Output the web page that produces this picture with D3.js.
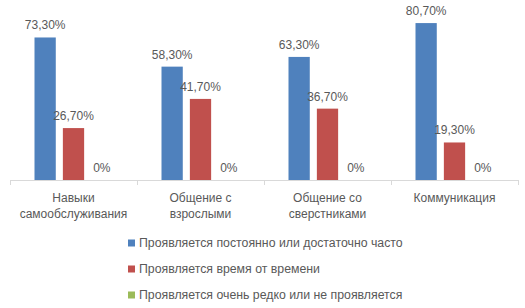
<!DOCTYPE html>
<html>
<head>
<meta charset="utf-8">
<script src="https://cdn.jsdelivr.net/npm/d3@7"></script>
<style>
  body { margin: 0; background: #fff; }
  text { font-family: "Liberation Sans", Arial, sans-serif; fill: #595959; }
</style>
</head>
<body>
<div id="chart"></div>
<script>
// categories (two lines each) and series
const categories = ["Навыки самообслуживания", "Общение с взрослыми", "Общение со сверстниками", "Коммуникация"];
const categoryLines = [["Навыки", "самообслуживания"], ["Общение с", "взрослыми"], ["Общение со", "сверстниками"], ["Коммуникация"]];
const seriesNames = ["Проявляется постоянно или достаточно часто", "Проявляется время от времени", "Проявляется очень редко или не проявляется"];
const often = [0.733, 0.583, 0.633, 0.807];
const sometimes = [0.267, 0.417, 0.367, 0.193];
const rarely = [0, 0, 0, 0];
const colors = ["#4F81BD", "#C0504D", "#9BBB59"];

const width = 525, height = 308;
const svg = d3.select("#chart").append("svg")
    .attr("width", width)
    .attr("height", height);

let series = [often, sometimes, rarely];
let data = categories.map((c, i) => ({cat: c, i: i, vals: series.map(s => s[i])}));

let x0 = d3.scaleBand().domain(categories).range([10, 518]).paddingInner(0).paddingOuter(0);
let x1 = d3.scaleBand().domain([0, 1, 2]).range([24.5, x0.bandwidth() - 24.5]).paddingInner(0.25).paddingOuter(0);
let y = d3.scaleLinear().domain([0, 0.9]).range([180, 5]);

let fmt = v => v === 0 ? "0%" : (v * 100).toFixed(2).replace(".", ",") + "%";

// bars
let groups = svg.selectAll(".grp")
    .data(data)
    .enter().append("g")
    .attr("class", "grp")
    .attr("transform", d => "translate(" + x0(d.cat) + ",0)");

groups.selectAll("rect")
    .data(d => d.vals)
    .enter().append("rect")
    .attr("x", (v, j) => x1(j))
    .attr("width", x1.bandwidth())
    .attr("y", v => y(v))
    .attr("height", v => y(0) - y(v))
    .attr("fill", (v, j) => colors[j]);

groups.selectAll(".lbl")
    .data(d => d.vals)
    .enter().append("text")
    .attr("class", "lbl")
    .attr("x", (v, j) => x1(j) + x1.bandwidth() / 2)
    .attr("y", v => y(v) - 8)
    .attr("text-anchor", "middle")
    .style("font-size", "12px")
    .text(fmt);

// axis line and ticks between categories
svg.append("line")
    .attr("x1", 10).attr("x2", 518)
    .attr("y1", y(0) + 0.5).attr("y2", y(0) + 0.5)
    .attr("stroke", "#D9D9D9");

let tickX = categories.map(c => x0(c)).concat([x0.range()[1]]);
svg.selectAll(".tick")
    .data(tickX)
    .enter().append("line")
    .attr("x1", d => Math.round(d) + 0.5).attr("x2", d => Math.round(d) + 0.5)
    .attr("y1", y(0)).attr("y2", y(0) + 5)
    .attr("stroke", "#D9D9D9");

// category labels
let catText = svg.selectAll(".cat")
    .data(data)
    .enter().append("text")
    .attr("class", "cat")
    .attr("x", d => x0(d.cat) + x0.bandwidth() / 2)
    .attr("y", 202)
    .attr("text-anchor", "middle")
    .style("font-size", "12px");

catText.selectAll("tspan")
    .data(d => categoryLines[d.i])
    .enter().append("tspan")
    .attr("x", function() { return d3.select(this.parentNode).attr("x"); })
    .attr("dy", (t, k) => k === 0 ? 0 : 16)
    .text(t => t);

// legend
let legend = svg.selectAll(".leg")
    .data(seriesNames)
    .enter().append("g")
    .attr("class", "leg")
    .attr("transform", (d, i) => "translate(128," + (243 + i * 26) + ")");

legend.append("rect")
    .attr("x", 0).attr("y", -3.5)
    .attr("width", 7).attr("height", 7)
    .attr("fill", (d, i) => colors[i]);

legend.append("text")
    .attr("x", 11)
    .attr("y", 4)
    .style("font-size", "12.3px")
    .text(d => d);
</script>
</body>
</html>
